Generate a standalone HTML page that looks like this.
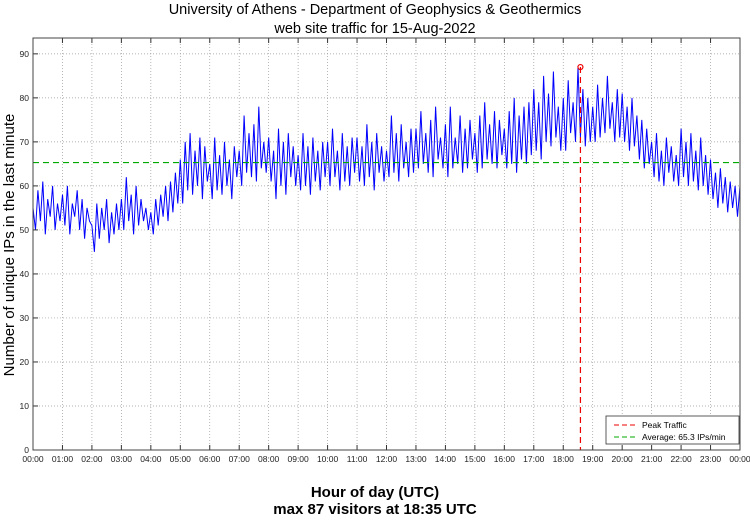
<!DOCTYPE html>
<html><head><meta charset="utf-8"><style>
body{margin:0;background:#fff;width:750px;height:515px;overflow:hidden;font-family:"Liberation Sans",sans-serif}
</style></head><body>
<svg id="chart" width="750" height="515" xmlns="http://www.w3.org/2000/svg" font-family="Liberation Sans, sans-serif">
<text x="375" y="14" text-anchor="middle" font-size="14.5">University of Athens - Department of Geophysics &amp; Geothermics</text>
<text x="375" y="33" text-anchor="middle" font-size="14.5">web site traffic for 15-Aug-2022</text>
<g id="grid"></g>
<g id="series"></g>
<g id="axes"></g>
<text transform="translate(14,245) rotate(-90)" text-anchor="middle" font-size="15">Number of unique IPs in the last minute</text>
<text x="375" y="497" text-anchor="middle" font-size="15" font-weight="bold">Hour of day (UTC)</text>
<text x="375" y="514" text-anchor="middle" font-size="15" font-weight="bold">max 87 visitors at 18:35 UTC</text>
<g>
<rect x="606" y="416" width="133" height="28" fill="#fff" stroke="#333" stroke-width="0.8"/>
<line x1="614" y1="425" x2="638" y2="425" stroke="#e00" stroke-dasharray="5,3"/>
<text x="642" y="428" font-size="8.5">Peak Traffic</text>
<line x1="614" y1="437" x2="638" y2="437" stroke="#0a0" stroke-dasharray="5,3"/>
<text x="642" y="440" font-size="8.5">Average: 65.3 IPs/min</text>
</g>
</svg>
<script>
const values=[
55,50,59,52,61,49,57,53,60,50,56,52,
58,51,60,49,56,53,59,50,57,48,55,52,
51,45,56,48,55,50,57,47,54,49,56,50,
57,50,62,52,58,49,60,51,57,52,55,50,
54,49,57,51,58,53,60,52,61,54,63,56,
66,56,70,59,72,58,68,60,71,57,69,61,
65,57,71,59,67,58,70,60,66,57,69,62,
68,60,76,63,72,62,74,61,78,64,70,63,
71,61,68,57,73,60,70,58,72,62,69,60,
67,59,72,60,69,58,71,61,68,59,70,62,
70,60,73,62,68,59,72,61,69,60,71,63,
71,61,69,60,74,62,70,59,72,63,69,61,
68,62,76,63,72,61,74,64,70,62,73,63,
73,64,77,65,72,63,75,62,78,66,71,64,
74,62,78,64,71,65,76,63,73,64,75,66,
72,63,76,64,79,66,74,65,77,64,75,67,
73,64,77,65,80,63,76,66,78,65,79,67,
82,68,79,66,85,70,81,69,86,71,78,68,
80,68,84,72,79,70,87,71,82,69,80,70,
78,70,83,71,80,72,85,73,79,70,82,71,
81,70,78,68,80,69,76,66,75,64,73,65,
70,62,72,61,68,60,71,63,69,61,67,60,
73,62,70,60,72,61,68,59,71,60,67,58,
66,57,63,55,64,56,62,54,61,55,60,53,60];
const yTicks=[0,10,20,30,40,50,60,70,80,90];
const xTickLabels=["00:00","01:00","02:00","03:00","04:00","05:00","06:00","07:00","08:00","09:00","10:00","11:00","12:00","13:00","14:00","15:00","16:00","17:00","18:00","19:00","20:00","21:00","22:00","23:00","00:00"];
const average=[65.3];
const peak=[18+35/60,87];
const L=33,R=740,T=38,B=450,YMAX=93.6;
const xs=h=>L+h/24*(R-L);
const ys=v=>B-v/YMAX*(B-T);
const NS="http://www.w3.org/2000/svg";
function mk(tag,attrs,parent){const e=document.createElementNS(NS,tag);for(const k in attrs)e.setAttribute(k,attrs[k]);parent.appendChild(e);return e;}
const grid=document.getElementById('grid'),axes=document.getElementById('axes'),ser=document.getElementById('series');
yTicks.forEach(v=>{
 const g=mk('line',{x1:L,x2:R,y1:ys(v),y2:ys(v),stroke:'#999','stroke-width':0.7,'stroke-dasharray':'1,2'},grid);
 
 
 const t=mk('text',{x:L-4,y:ys(v)+3,'text-anchor':'end','font-size':8.5,fill:'#222'},axes);
 
 
 t.textContent=v;
 mk('line',{x1:L,x2:L+5,y1:ys(v),y2:ys(v),stroke:'#333'},axes);
});
xTickLabels.forEach((lab,i)=>{
 const x=xs(i);
 const g=mk('line',{x1:x,x2:x,y1:T,y2:B,stroke:'#999','stroke-width':0.7,'stroke-dasharray':'1,2'},grid);
 
 
 mk('line',{x1:x,x2:x,y1:B,y2:B-5,stroke:'#333'},axes);
 mk('line',{x1:x,x2:x,y1:T,y2:T+5,stroke:'#333'},axes);
 const t=mk('text',{x:x,y:B+12,'text-anchor':'middle','font-size':8.5,fill:'#222'},axes);
 
 
 t.textContent=lab;
});
const fr=mk('rect',{x:L,y:T,width:R-L,height:B-T,fill:'none',stroke:'#444','stroke-width':1},axes);


const n=values.length-1;
const pts=values.map((v,i)=>xs(i/n*24).toFixed(1)+','+ys(v).toFixed(1)).join(' ');
const pl=mk('polyline',{points:pts,fill:'none',stroke:'#00f','stroke-width':1},ser);


const av=mk('line',{x1:L,x2:R,y1:ys(average[0]),y2:ys(average[0]),stroke:'#0a0','stroke-width':1.2,'stroke-dasharray':'6,4'},ser);


const pk=mk('line',{x1:xs(peak[0]),x2:xs(peak[0]),y1:ys(peak[1]),y2:B,stroke:'#e00','stroke-width':1.2,'stroke-dasharray':'6,4'},ser);


const pm=mk('circle',{cx:xs(peak[0]),cy:ys(peak[1]),r:2.5,fill:'none',stroke:'#e00','stroke-width':1.2},ser);


</script>
</body></html>
